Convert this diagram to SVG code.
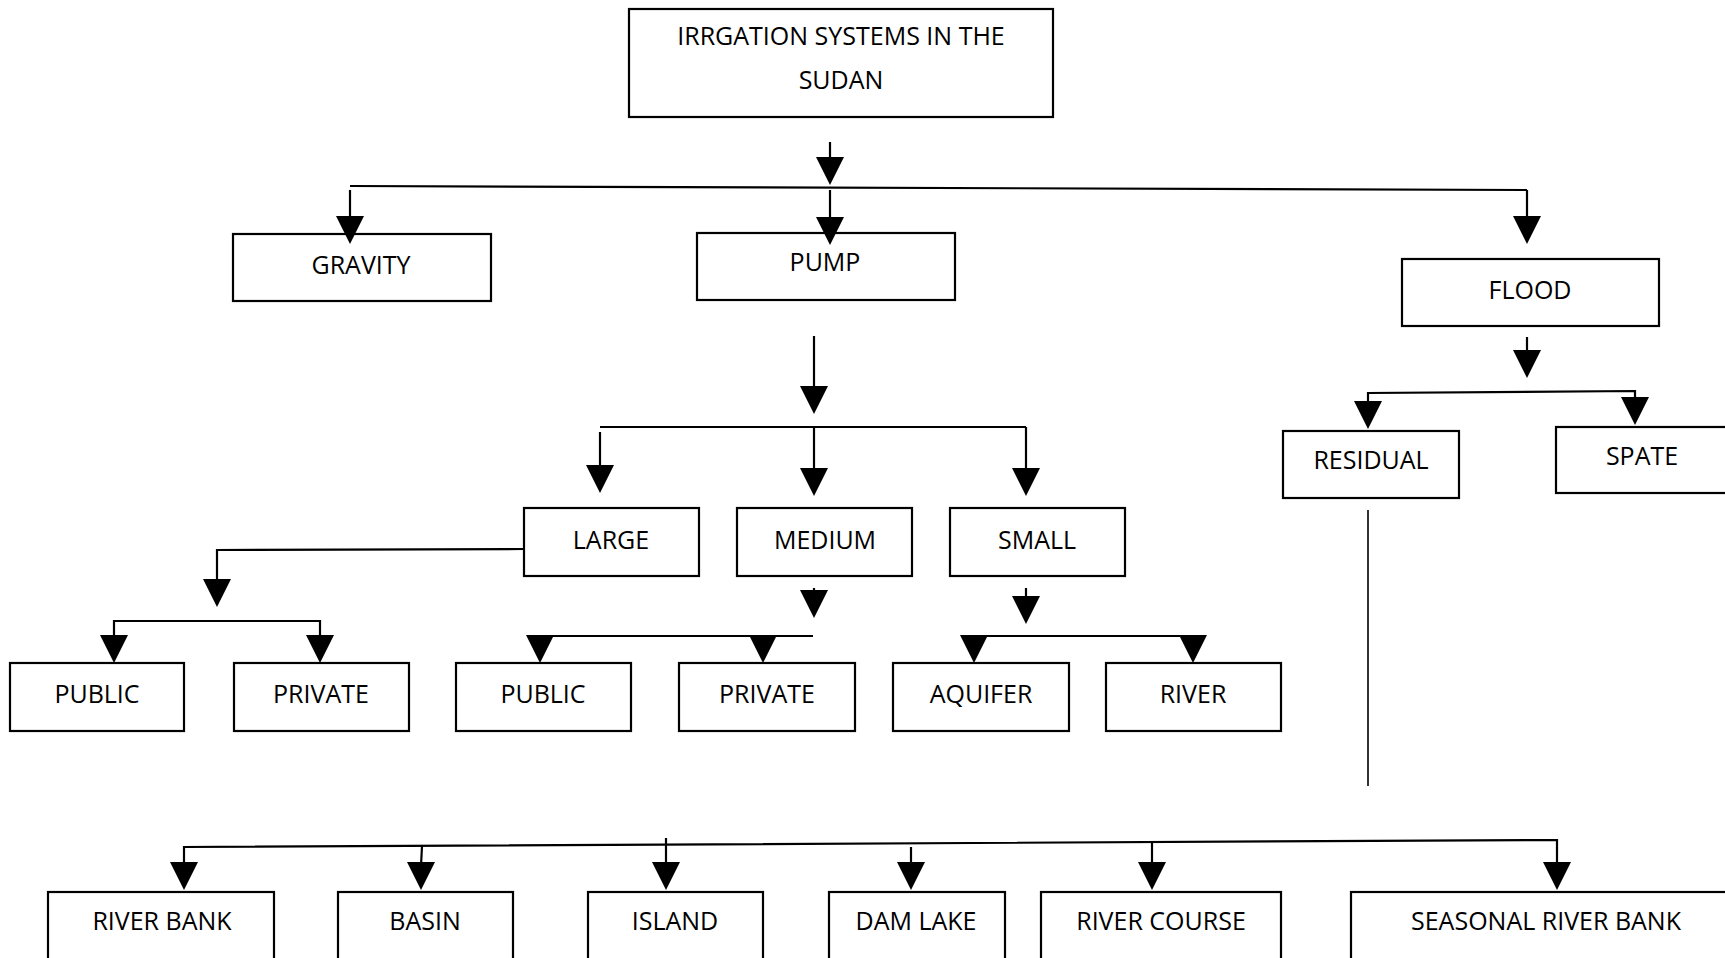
<svg xmlns="http://www.w3.org/2000/svg" xmlns:xlink="http://www.w3.org/1999/xlink" width="1725" height="958" viewBox="0 0 1725 958">
<style>
.box{fill:#fff;stroke:#000;stroke-width:2.2}
.lbl{font-family:"Open Sans","Liberation Sans",sans-serif;font-size:25px;fill:#000;text-anchor:middle}
.ln{fill:none;stroke:#000;stroke-width:2.2}
.ln2{fill:none;stroke:#333;stroke-width:2}
</style>
<defs>
<path id="ah" d="M-14,-28 L14,-28 L0,0 Z" fill="#000"/>
</defs>
<rect width="1725" height="958" fill="#fff"/>

<g id="title"><rect class="box" x="629" y="9" width="424" height="108"/><text class="lbl" x="841" y="45">IRRGATION SYSTEMS IN THE</text><text class="lbl" x="841" y="89">SUDAN</text></g>
<g id="gravity"><rect class="box" x="233" y="234" width="258" height="67"/><text class="lbl" x="361" y="274">GRAVITY</text></g>
<g id="pump"><rect class="box" x="697" y="233" width="258" height="67"/><text class="lbl" x="825" y="271">PUMP</text></g>
<g id="flood"><rect class="box" x="1402" y="259" width="257" height="67"/><text class="lbl" x="1530" y="299">FLOOD</text></g>
<g id="residual"><rect class="box" x="1283" y="431" width="176" height="67"/><text class="lbl" x="1371" y="469">RESIDUAL</text></g>
<g id="spate"><rect class="box" x="1556" y="427" width="180" height="66"/><text class="lbl" x="1642" y="465">SPATE</text></g>
<g id="large"><rect class="box" x="524" y="508" width="175" height="68"/><text class="lbl" x="611" y="549">LARGE</text></g>
<g id="medium"><rect class="box" x="737" y="508" width="175" height="68"/><text class="lbl" x="825" y="549">MEDIUM</text></g>
<g id="small"><rect class="box" x="950" y="508" width="175" height="68"/><text class="lbl" x="1037" y="549">SMALL</text></g>
<g id="public1"><rect class="box" x="10" y="663" width="174" height="68"/><text class="lbl" x="97" y="703">PUBLIC</text></g>
<g id="private1"><rect class="box" x="234" y="663" width="175" height="68"/><text class="lbl" x="321" y="703">PRIVATE</text></g>
<g id="public2"><rect class="box" x="456" y="663" width="175" height="68"/><text class="lbl" x="543" y="703">PUBLIC</text></g>
<g id="private2"><rect class="box" x="679" y="663" width="176" height="68"/><text class="lbl" x="767" y="703">PRIVATE</text></g>
<g id="aquifer"><rect class="box" x="893" y="663" width="176" height="68"/><text class="lbl" x="981" y="703">AQUIFER</text></g>
<g id="river"><rect class="box" x="1106" y="663" width="175" height="68"/><text class="lbl" x="1193" y="703">RIVER</text></g>
<g id="riverbank"><rect class="box" x="48" y="892" width="226" height="70"/><text class="lbl" x="162" y="930">RIVER BANK</text></g>
<g id="basin"><rect class="box" x="338" y="892" width="175" height="70"/><text class="lbl" x="425" y="930">BASIN</text></g>
<g id="island"><rect class="box" x="588" y="892" width="175" height="70"/><text class="lbl" x="675" y="930">ISLAND</text></g>
<g id="damlake"><rect class="box" x="829" y="892" width="176" height="70"/><text class="lbl" x="916" y="930">DAM LAKE</text></g>
<g id="rivercourse"><rect class="box" x="1041" y="892" width="240" height="70"/><text class="lbl" x="1161" y="930">RIVER COURSE</text></g>
<g id="seasonal"><rect class="box" x="1351" y="892" width="385" height="70"/><text class="lbl" x="1546" y="930">SEASONAL RIVER BANK</text></g>

<g id="connectors">
<path class="ln" d="M830,142 V160"/><use xlink:href="#ah" x="830" y="185"/>
<path class="ln" d="M350,186 L1527,190"/>
<path class="ln" d="M350,190 V220"/><use xlink:href="#ah" x="350" y="244"/>
<path class="ln" d="M830,190 V220"/><use xlink:href="#ah" x="830" y="245"/>
<path class="ln" d="M1527,190 V220"/><use xlink:href="#ah" x="1527" y="244"/>
<path class="ln" d="M1527,337 V355"/><use xlink:href="#ah" x="1527" y="378"/>
<path class="ln" d="M1368,405 V393 L1635,391 V400"/>
<use xlink:href="#ah" x="1368" y="429"/><use xlink:href="#ah" x="1635" y="425"/>
<path class="ln" d="M814,336 V390"/><use xlink:href="#ah" x="814" y="414"/>
<path class="ln" d="M600,427 H1026"/>
<path class="ln" d="M600,432 V468"/><use xlink:href="#ah" x="600" y="493"/>
<path class="ln" d="M814,427 V472"/><use xlink:href="#ah" x="814" y="496"/>
<path class="ln" d="M1026,427 V472"/><use xlink:href="#ah" x="1026" y="496"/>
<path class="ln" d="M524,549 L217,550 V584"/><use xlink:href="#ah" x="217" y="607"/>
<path class="ln" d="M114,640 V621 H320 V640"/>
<use xlink:href="#ah" x="114" y="663"/><use xlink:href="#ah" x="320" y="663"/>
<path class="ln" d="M814,588 V594"/><use xlink:href="#ah" x="814" y="618"/>
<path class="ln" d="M540,636 H813"/>
<use xlink:href="#ah" x="540" y="663"/><use xlink:href="#ah" x="763" y="663"/>
<path class="ln" d="M1026,588 V600"/><use xlink:href="#ah" x="1026" y="624"/>
<path class="ln" d="M974,636 H1193"/>
<use xlink:href="#ah" x="974" y="663"/><use xlink:href="#ah" x="1193" y="663"/>
<path class="ln2" d="M1368,510 V786"/>
<path class="ln" d="M184,866 V847 L1557,840 V866"/>
<use xlink:href="#ah" x="184" y="890"/>
<path class="ln" d="M422,846 L421,866"/><use xlink:href="#ah" x="421" y="890"/>
<path class="ln" d="M666,838 V866"/><use xlink:href="#ah" x="666" y="890"/>
<path class="ln" d="M911,847 V866"/><use xlink:href="#ah" x="911" y="890"/>
<path class="ln" d="M1152,841 V866"/><use xlink:href="#ah" x="1152" y="890"/>
<use xlink:href="#ah" x="1557" y="890"/>
</g>
</svg>
